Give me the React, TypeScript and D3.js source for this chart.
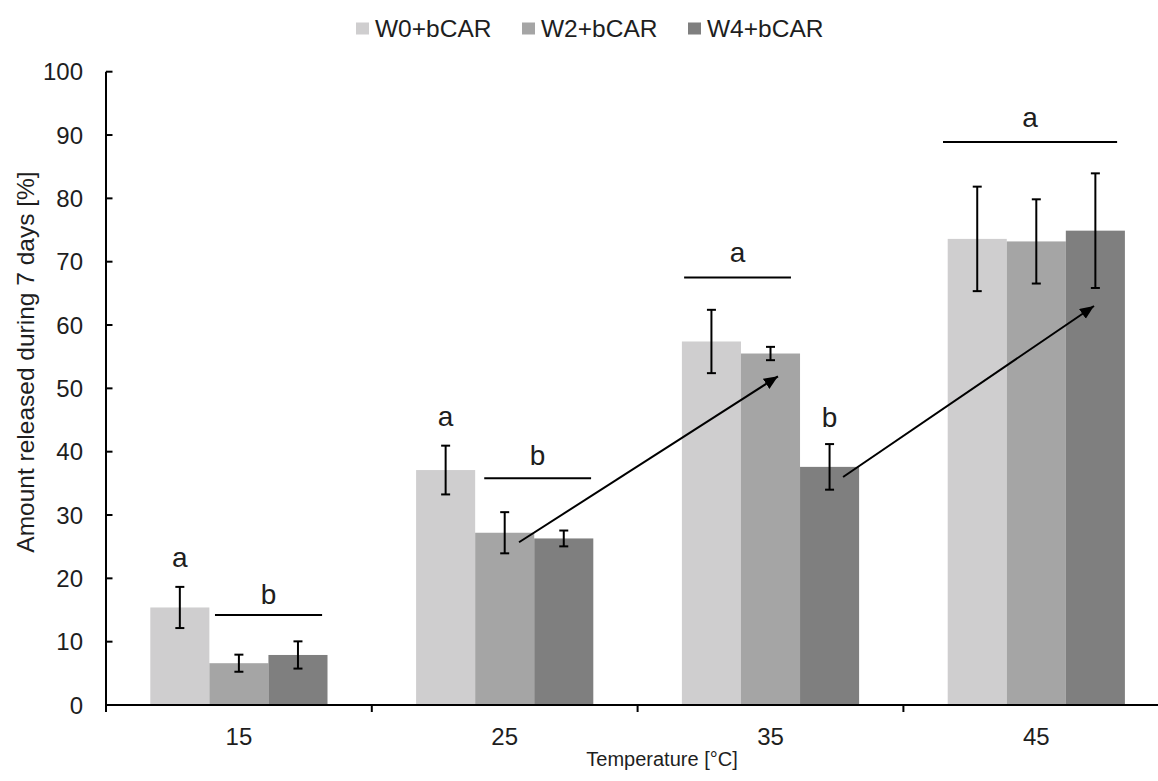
import React from "react";
import * as d3 from "d3";

// ---- data ----
const categories = ["15", "25", "35", "45"];
const seriesNames = ["W0+bCAR", "W2+bCAR", "W4+bCAR"];
const w0Values = [15.4, 37.1, 57.4, 73.6];
const w2Values = [6.6, 27.2, 55.5, 73.2];
const w4Values = [7.9, 26.3, 37.6, 74.9];
const w0Errors = [3.25, 3.85, 5.0, 8.25];
const w2Errors = [1.35, 3.25, 1.05, 6.65];
const w4Errors = [2.15, 1.25, 3.6, 9.05];
const yTicks = [0, 10, 20, 30, 40, 50, 60, 70, 80, 90, 100];

// significance bars spanning groups: position as fraction of category band
const sigLines = [
  { cat: "15", start: 0.41, end: 0.813, value: 14.2, letter: "b", letterValue: 16.0 },
  { cat: "25", start: 0.423, end: 0.825, value: 35.8, letter: "b", letterValue: 37.9 },
  { cat: "35", start: 0.175, end: 0.577, value: 67.5, letter: "a", letterValue: 69.9 },
  { cat: "45", start: 0.149, end: 0.804, value: 88.9, letter: "a", letterValue: 91.3 },
];
// letters above individual bars
const barLetters = [
  { cat: "15", series: 0, letter: "a", value: 21.8 },
  { cat: "25", series: 0, letter: "a", value: 44.1 },
  { cat: "35", series: 2, letter: "b", value: 43.9 },
];
// arrows between groups
const arrows = [
  { fromCat: "25", fromPos: 0.554, fromValue: 25.7, toCat: "35", toPos: 0.528, toValue: 51.9 },
  { fromCat: "35", fromPos: 0.773, fromValue: 36.0, toCat: "45", toPos: 0.717, toValue: 63.0 },
];

const colors = ["#cfcecf", "#a5a5a5", "#7f7f7f"];
const FONT = "'Liberation Sans', Arial, sans-serif";
const TXT = "#1e1e1e";

export default function App() {
  const W = 1158;
  const H = 781;
  const left = 106;
  const right = 1169.2;
  const top = 71.7;
  const bottom = 705;

  const x = d3.scaleBand<string>().domain(categories).range([left, right]).paddingInner(0).paddingOuter(0);
  const xs = d3
    .scaleBand<string>()
    .domain(seriesNames)
    .range([0, x.bandwidth()])
    .paddingInner(0)
    .paddingOuter(0.75);
  const y = d3.scaleLinear().domain([0, 100]).range([bottom, top]);

  const values = [w0Values, w2Values, w4Values];
  const errors = [w0Errors, w2Errors, w4Errors];
  const bw = xs.bandwidth();
  const fx = (cat: string, pos: number) => (x(cat) as number) + pos * x.bandwidth();

  const boundaries = categories.map((c) => x(c) as number).slice(1);

  return (
    <svg
      width={W}
      height={H}
      style={{ position: "absolute", left: 0, top: 0, background: "#fff" }}
      fontFamily={FONT}
    >
      <defs>
        <marker
          id="arrowhead"
          markerUnits="userSpaceOnUse"
          markerWidth={16}
          markerHeight={14}
          refX={14}
          refY={6}
          orient="auto"
        >
          <path d="M0,0 L14,6 L0,12 Z" fill="#000" />
        </marker>
      </defs>
      <rect x={0} y={0} width={W} height={H} fill="#fff" />

      {/* legend */}
      {seriesNames.map((s, i) => (
        <g key={s} transform={`translate(${356 + i * 166},0)`}>
          <rect x={0} y={22.5} width={13} height={12} fill={colors[i]} />
          <text x={19} y={36.5} fontSize={24.5} fill={TXT}>
            {s}
          </text>
        </g>
      ))}

      {/* bars */}
      {seriesNames.map((s, si) =>
        categories.map((c, ci) => (
          <rect
            key={s + c}
            x={(x(c) as number) + (xs(s) as number)}
            y={y(values[si][ci])}
            width={bw}
            height={y(0) - y(values[si][ci])}
            fill={colors[si]}
          />
        ))
      )}

      {/* error bars */}
      {seriesNames.map((s, si) =>
        categories.map((c, ci) => {
          const cx = (x(c) as number) + (xs(s) as number) + bw / 2;
          const hi = y(values[si][ci] + errors[si][ci]);
          const lo = y(values[si][ci] - errors[si][ci]);
          return (
            <g key={"e" + s + c} stroke="#000" strokeWidth={2}>
              <line x1={cx} x2={cx} y1={hi} y2={lo} />
              <line x1={cx - 4.5} x2={cx + 4.5} y1={hi} y2={hi} />
              <line x1={cx - 4.5} x2={cx + 4.5} y1={lo} y2={lo} />
            </g>
          );
        })
      )}

      {/* axes */}
      <line x1={left} x2={left} y1={top} y2={bottom + 7} stroke="#000" strokeWidth={2} />
      <line x1={left} x2={right} y1={bottom} y2={bottom} stroke="#000" strokeWidth={2} />
      {yTicks.map((t) => (
        <g key={"yt" + t}>
          <line x1={left} x2={left + 6.5} y1={y(t)} y2={y(t)} stroke="#000" strokeWidth={2} />
          <text x={83} y={y(t)} dy="0.36em" textAnchor="end" fontSize={24} fill={TXT}>
            {t}
          </text>
        </g>
      ))}
      {boundaries.map((b, i) => (
        <line key={"xt" + i} x1={b} x2={b} y1={bottom} y2={bottom + 7} stroke="#000" strokeWidth={2} />
      ))}
      {categories.map((c) => (
        <text
          key={"xl" + c}
          x={(x(c) as number) + x.bandwidth() / 2}
          y={745}
          textAnchor="middle"
          fontSize={24}
          fill={TXT}
        >
          {c}
        </text>
      ))}

      {/* axis titles */}
      <text x={662} y={766} textAnchor="middle" fontSize={20} fill={TXT}>
        Temperature [°C]
      </text>
      <text
        transform={`translate(34,362) rotate(-90)`}
        textAnchor="middle"
        fontSize={24.5}
        fill={TXT}
      >
        Amount released during 7 days [%]
      </text>

      {/* significance lines */}
      {sigLines.map((l, i) => (
        <g key={"sig" + i}>
          <line
            x1={fx(l.cat, l.start)}
            x2={fx(l.cat, l.end)}
            y1={y(l.value)}
            y2={y(l.value)}
            stroke="#000"
            strokeWidth={2}
          />
          <text
            x={(fx(l.cat, l.start) + fx(l.cat, l.end)) / 2}
            y={y(l.letterValue)}
            textAnchor="middle"
            fontSize={28}
            fill={TXT}
          >
            {l.letter}
          </text>
        </g>
      ))}
      {barLetters.map((b, i) => (
        <text
          key={"bl" + i}
          x={(x(b.cat) as number) + (xs(seriesNames[b.series]) as number) + bw / 2}
          y={y(b.value)}
          textAnchor="middle"
          fontSize={28}
          fill={TXT}
        >
          {b.letter}
        </text>
      ))}

      {/* arrows */}
      {arrows.map((a, i) => (
        <line
          key={"ar" + i}
          x1={fx(a.fromCat, a.fromPos)}
          y1={y(a.fromValue)}
          x2={fx(a.toCat, a.toPos)}
          y2={y(a.toValue)}
          stroke="#000"
          strokeWidth={2}
          markerEnd="url(#arrowhead)"
        />
      ))}
    </svg>
  );
}
